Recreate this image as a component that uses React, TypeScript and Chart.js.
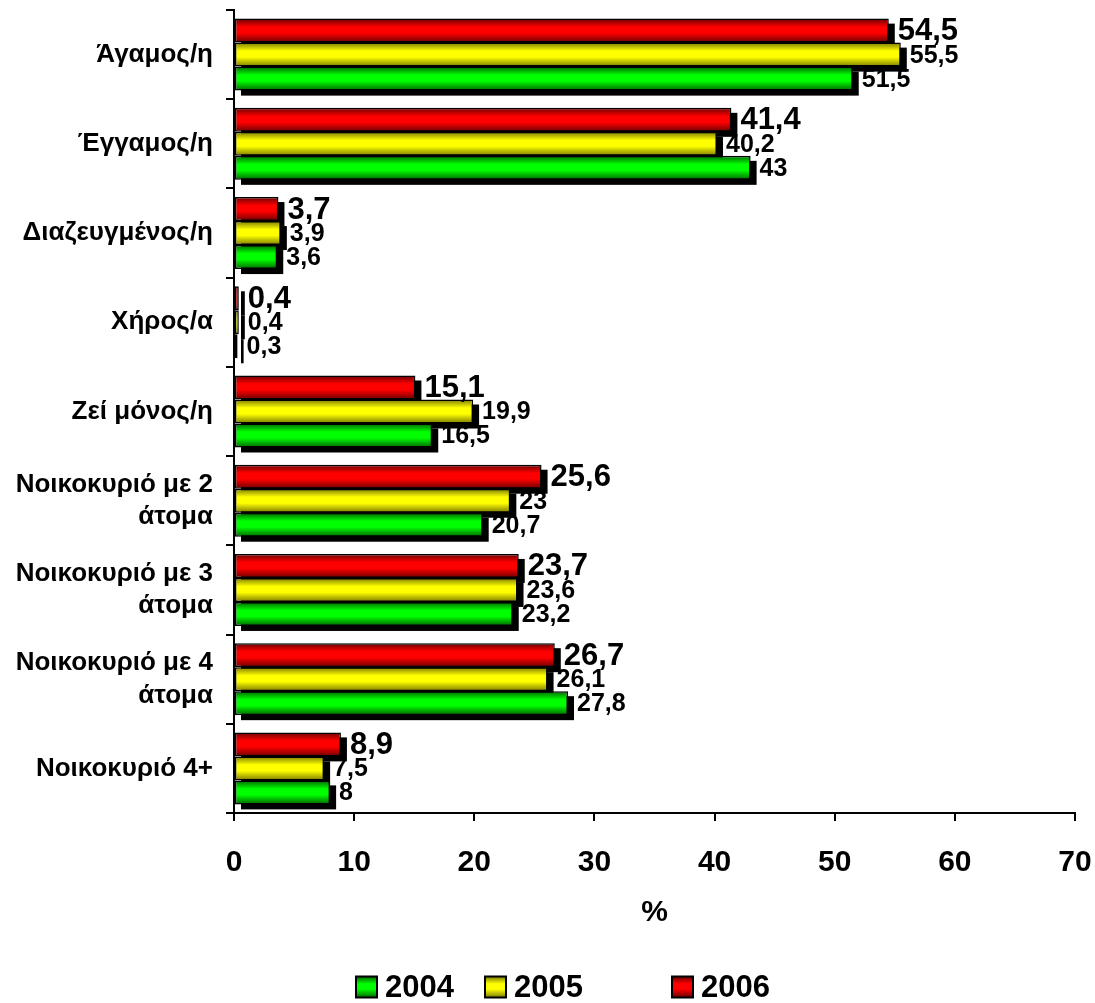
import React, { useEffect, useRef } from 'react';
import { Chart, registerables } from 'chart.js';

Chart.register(...registerables);

// ---- data ----
const categories: (string | string[])[] = [
  'Άγαμος/η',
  'Έγγαμος/η',
  'Διαζευγμένος/η',
  'Χήρος/α',
  'Ζεί μόνος/η',
  ['Νοικοκυριό με 2', 'άτομα'],
  ['Νοικοκυριό με 3', 'άτομα'],
  ['Νοικοκυριό με 4', 'άτομα'],
  'Νοικοκυριό 4+',
];
const years = ['2004', '2005', '2006'];
const values2004 = [51.5, 43, 3.6, 0.3, 16.5, 20.7, 23.2, 27.8, 8];
const values2005 = [55.5, 40.2, 3.9, 0.4, 19.9, 23, 23.6, 26.1, 7.5];
const values2006 = [54.5, 41.4, 3.7, 0.4, 15.1, 25.6, 23.7, 26.7, 8.9];
const xTickValues = [0, 10, 20, 30, 40, 50, 60, 70];
const xAxisTitle = '%';

// ---- styles ----
const FONT = "'Liberation Sans', Arial, Helvetica, sans-serif";
const brightColors = ['#00ff00', '#ffff00', '#ff0000'];
const darkColors = ['#006400', '#7a7a00', '#6a0000'];
const SHADOW_DX = 6;
const SHADOW_DY = 5;
const WIDTH = 1095;
const HEIGHT = 1003;

function cylinderGradient(ctx: CanvasRenderingContext2D, top: number, bottom: number, bright: string, dark: string) {
  const g = ctx.createLinearGradient(0, top, 0, bottom);
  g.addColorStop(0, dark);
  g.addColorStop(0.35, bright);
  g.addColorStop(0.6, bright);
  g.addColorStop(1, dark);
  return g;
}

const fmt = (v: number) => String(v).replace('.', ',');

// black drop shadow + shaded fill for each bar, value labels after
const bar3dPlugin = {
  id: 'bar3d',
  beforeDatasetsDraw(chart: any) {
    const ctx: CanvasRenderingContext2D = chart.ctx;
    ctx.save();
    ctx.fillStyle = '#000';
    chart.data.datasets.forEach((ds: any, i: number) => {
      const meta = chart.getDatasetMeta(i);
      if (meta.hidden) return;
      const s = ds.seriesIndex;
      meta.data.forEach((el: any) => {
        const { x, y, base, height } = el.getProps(['x', 'y', 'base', 'height'], true);
        const left = Math.min(x, base);
        const w = Math.abs(x - base);
        ctx.fillRect(left + SHADOW_DX, y - height / 2 + SHADOW_DY, w, height);
        el.options = {
          ...el.options,
          backgroundColor: cylinderGradient(ctx, y - height / 2, y + height / 2, brightColors[s], darkColors[s]),
        };
      });
    });
    ctx.restore();
  },
  afterDatasetsDraw(chart: any) {
    const ctx: CanvasRenderingContext2D = chart.ctx;
    ctx.save();
    ctx.fillStyle = '#000';
    ctx.textAlign = 'left';
    ctx.textBaseline = 'middle';
    chart.data.datasets.forEach((ds: any, i: number) => {
      const meta = chart.getDatasetMeta(i);
      if (meta.hidden) return;
      const big = ds.seriesIndex === 2;
      ctx.font = `bold ${big ? 31 : 25}px ${FONT}`;
      meta.data.forEach((el: any, j: number) => {
        const { x, y } = el.getProps(['x', 'y'], true);
        ctx.fillText(fmt(ds.data[j]), x + 9, y + 1);
      });
    });
    ctx.restore();
  },
};

// legend row under the axis title
const legendPlugin = {
  id: 'legendRow',
  afterDraw(chart: any) {
    const ctx: CanvasRenderingContext2D = chart.ctx;
    const boxLefts = [356, 485, 672];
    const cy = 987;
    const size = 21;
    ctx.save();
    ctx.font = `bold 31px ${FONT}`;
    ctx.textBaseline = 'middle';
    ctx.textAlign = 'left';
    years.forEach((yr, s) => {
      const bx = boxLefts[s];
      const top = cy - size / 2;
      ctx.fillStyle = cylinderGradient(ctx, top, top + size, brightColors[s], darkColors[s]);
      ctx.fillRect(bx, top, size, size);
      ctx.lineWidth = 2;
      ctx.strokeStyle = '#000';
      ctx.strokeRect(bx, top, size, size);
      ctx.fillStyle = '#000';
      ctx.fillText(yr, bx + 29, cy + 1);
    });
    ctx.restore();
  },
};

export default function App() {
  const canvasRef = useRef<HTMLCanvasElement | null>(null);

  useEffect(() => {
    document.body.style.margin = '0';
    if (!canvasRef.current) return;
    const series = [values2004, values2005, values2006];
    // top bar in each group is 2006, so datasets go newest first
    const datasets = [2, 1, 0].map((s) => ({
      label: years[s],
      seriesIndex: s,
      data: series[s],
      backgroundColor: brightColors[s],
      borderColor: '#000',
      borderWidth: 1.5,
      borderSkipped: false,
      categoryPercentage: 0.807,
      barPercentage: 1,
    }));

    const chart = new Chart(canvasRef.current, {
      type: 'bar',
      data: { labels: categories, datasets: datasets as any },
      options: {
        indexAxis: 'y',
        responsive: false,
        maintainAspectRatio: false,
        animation: false,
        devicePixelRatio: 1,
        layout: { padding: { left: 0, right: 20, top: 10, bottom: 60 } },
        plugins: {
          legend: { display: false },
          tooltip: { enabled: false },
        },
        scales: {
          x: {
            type: 'linear',
            min: 0,
            max: 70,
            afterBuildTicks: (scale: any) => {
              scale.ticks = xTickValues.map((v) => ({ value: v }));
            },
            ticks: {
              color: '#000',
              font: { family: FONT, size: 30, weight: 'bold' },
              padding: 24,
              maxRotation: 0,
            },
            grid: { drawOnChartArea: false, tickLength: 8, color: '#000', lineWidth: 2 },
            border: { display: true, color: '#000', width: 2 },
            title: {
              display: true,
              text: xAxisTitle,
              color: '#000',
              font: { family: FONT, size: 30, weight: 'bold' },
              padding: { top: 0, bottom: 12 },
            },
            afterFit: (scale: any) => {
              scale.height = 130;
              scale.paddingLeft = 0;
              scale.paddingRight = 0;
            },
          },
          y: {
            type: 'category',
            grid: { offset: true, drawOnChartArea: false, tickLength: 8, color: '#000', lineWidth: 2 },
            border: { display: true, color: '#000', width: 2 },
            ticks: {
              color: '#000',
              font: { family: FONT, size: 26, weight: 'bold', lineHeight: 1.25 },
              padding: 13,
              autoSkip: false,
            },
            afterFit: (scale: any) => {
              scale.width = 234;
              scale.paddingTop = 0;
              scale.paddingBottom = 0;
            },
          },
        },
      } as any,
      plugins: [bar3dPlugin, legendPlugin],
    });

    return () => chart.destroy();
  }, []);

  return (
    <div style={{ width: WIDTH, height: HEIGHT }}>
      <canvas ref={canvasRef} width={WIDTH} height={HEIGHT} style={{ display: 'block' }} />
    </div>
  );
}
